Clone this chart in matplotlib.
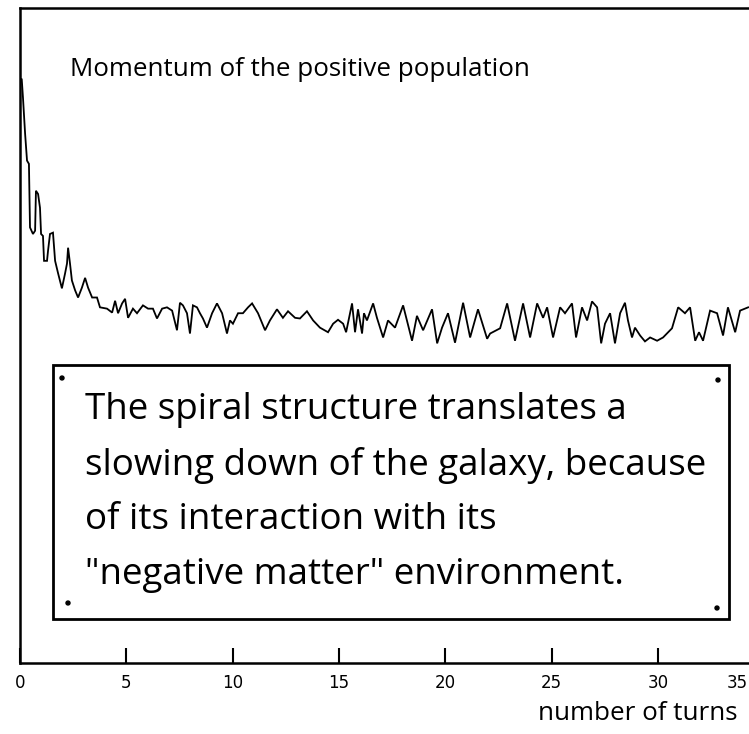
import matplotlib
matplotlib.use("Agg")
import matplotlib.pyplot as plt
from matplotlib.patches import Rectangle

# ---- data ----
turns = [0.00, 0.08, 0.14, 0.24, 0.33, 0.42, 0.47, 0.61, 0.71, 0.75, 0.85, 0.94, 0.99,
         1.08, 1.13, 1.27, 1.32, 1.41, 1.55, 1.65, 1.79, 1.97, 2.12, 2.21, 2.26, 2.35,
         2.44, 2.59, 2.73, 2.91, 3.06, 3.20, 3.39, 3.62, 3.76, 4.09, 4.33, 4.47, 4.61,
         4.80, 4.94, 5.08, 5.31, 5.50, 5.78, 6.02, 6.25, 6.44, 6.68, 6.91, 7.15, 7.38,
         7.52, 7.66, 7.85, 7.99, 8.13, 8.32, 8.46, 8.60, 8.79, 9.03, 9.26, 9.50, 9.73,
         9.87, 10.01, 10.25, 10.48, 10.72, 10.91, 11.19, 11.52, 11.75, 12.08, 12.36,
         12.60, 12.93, 13.16, 13.49, 13.78, 14.10, 14.48, 14.72, 14.95, 15.19, 15.33,
         15.61, 15.75, 15.89, 16.08, 16.17, 16.31, 16.60, 16.78, 17.07, 17.30, 17.63,
         18.01, 18.19, 18.43, 18.66, 18.95, 19.37, 19.61, 19.84, 20.12, 20.45, 20.83,
         21.16, 21.53, 21.96, 22.10, 22.57, 22.90, 23.27, 23.65, 23.98, 24.31, 24.59,
         24.78, 25.06, 25.39, 25.62, 25.95, 26.14, 26.42, 26.66, 26.89, 27.13, 27.32,
         27.50, 27.74, 27.97, 28.21, 28.44, 28.58, 28.77, 28.91, 29.15, 29.38, 29.62,
         29.95, 30.23, 30.65, 30.94, 31.26, 31.50, 31.74, 31.92, 32.11, 32.44, 32.77,
         33.05, 33.28, 33.62, 33.85, 34.23]
momentum = [89.0, 89.2, 86.3, 80.8, 76.7, 76.2, 66.5, 65.5, 66.0, 72.1, 71.6, 69.5, 65.5,
            65.2, 61.4, 61.4, 63.0, 65.5, 65.7, 61.4, 59.5, 57.2, 59.5, 61.0, 63.4, 61.0,
            58.4, 56.9, 55.8, 57.3, 58.8, 57.3, 55.8, 55.8, 54.3, 54.1, 53.5, 55.3, 53.4,
            54.9, 55.6, 52.7, 54.1, 53.4, 54.6, 54.1, 54.1, 52.6, 54.1, 54.3, 53.8, 50.8,
            55.0, 54.6, 53.4, 50.3, 54.6, 54.3, 53.4, 52.6, 51.2, 53.4, 54.9, 53.4, 50.3,
            52.3, 51.8, 53.4, 53.4, 54.3, 54.9, 53.4, 50.8, 52.3, 54.0, 52.7,
            53.7, 52.7, 52.6, 53.7, 52.3, 51.2, 50.5, 51.8, 52.4, 51.8, 50.5,
            54.9, 50.5, 54.0, 50.3, 53.4, 52.3, 54.9, 52.7, 49.7, 52.3, 51.2,
            54.6, 52.3, 49.2, 53.0, 50.8, 54.0, 48.8, 51.2, 53.4, 48.9, 55.0,
            49.7, 54.0, 49.5, 50.3, 51.1, 54.9, 49.2, 54.9, 49.7, 54.9, 52.7,
            54.3, 49.7, 54.3, 53.4, 54.9, 49.7, 54.3, 52.3, 55.2, 54.3, 48.8,
            51.8, 53.4, 48.8, 53.4, 55.0, 52.3, 49.7, 51.2, 50.0, 49.1, 49.7,
            49.2, 49.7, 51.1, 54.3, 53.4, 54.3, 49.2, 50.5, 49.2, 53.8, 53.4,
            50.0, 54.3, 50.5, 53.8, 54.3]
tick_values = [0, 5, 10, 15, 20, 25, 30]
last_tick_label = "35"

title_text = "Momentum of the positive population"
xlabel_text = "number of turns"
box_lines = ["The spiral structure translates a",
             "slowing down of the galaxy, because",
             "of its interaction with its",
             "\"negative matter\" environment."]

W, H = 749, 734
fig = plt.figure(figsize=(W / 100, H / 100), dpi=100)
ax = fig.add_axes([20 / W, 1 - 663 / H, 1 - 20 / W, (663 - 8) / H])

ax.plot(turns, momentum, color="black", lw=1.3, solid_joinstyle="miter")
ax.set_xlim(0, 34.27)
ax.set_ylim(0, 100)

for s in ["left", "bottom", "top"]:
    ax.spines[s].set_linewidth(1.8)
ax.spines["right"].set_visible(False)
ax.set_yticks([])
ax.set_xticks(tick_values)
ax.set_xticklabels([str(v) for v in tick_values], family="DejaVu Sans", fontsize=12)
ax.tick_params(axis="x", direction="in", length=11, width=1.5, pad=8)
ax.annotate(last_tick_label, xy=(33.7, 0), xycoords=("data", "axes fraction"),
            xytext=(0, -8), textcoords="offset points", ha="center", va="top",
            fontsize=12, family="DejaVu Sans", annotation_clip=False)

comic = ["Open Sans", "DejaVu Sans"]
fig.text(70 / W, 1 - 69 / H, title_text, ha="left", va="center",
         fontsize=18.7, family=comic)
fig.text(538 / W, 1 - 713 / H, xlabel_text, ha="left", va="center",
         fontsize=18.7, family=comic)

# annotation box with its little corner dots
fig.patches.append(Rectangle((53 / W, 1 - 619 / H), 676 / W, 254 / H,
                             transform=fig.transFigure, fill=False,
                             lw=2.0, edgecolor="black"))
for dx, dy in [(62, 378), (718, 380), (68, 603), (717, 608)]:
    fig.patches.append(plt.Circle((dx / W, 1 - dy / H), 2.0 / W,
                                  transform=fig.transFigure, color="black"))
for i, line in enumerate(box_lines):
    fig.text(85 / W, 1 - (410 + 55 * i) / H, line, ha="left", va="center",
             fontsize=26.5, family=comic)

fig.savefig("out.png", dpi=100)
